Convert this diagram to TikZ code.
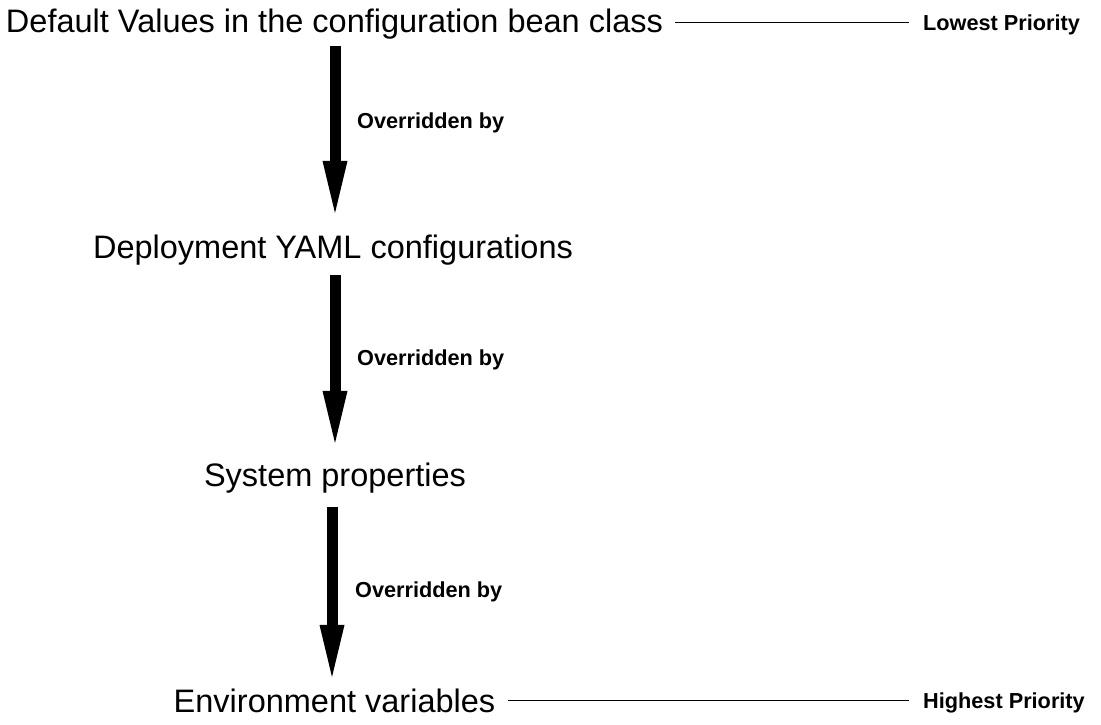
\documentclass[tikz,border=0pt]{standalone}
\usepackage{fontspec}
\setmainfont{Liberation Sans}
\usetikzlibrary{arrows.meta,positioning}

\begin{document}
\begin{tikzpicture}[
    x=1pt, y=1pt,
    level/.style={inner sep=0pt, anchor=base, font=\fontsize{32.5}{39}\selectfont},
    note/.style={inner sep=0pt, anchor=base west, font=\fontsize{21.7}{26}\selectfont\bfseries},
    arrow/.style={-{Triangle[length=52pt, width=25pt, line width=0pt]}, line width=11pt},
    rule/.style={line width=0.8pt}
]
\useasboundingbox (0,0) rectangle (1101,-724);

\node[level] (default) at (334.5,-32.5) {Default Values in the configuration bean class};
\node[level] (deploy) at (333,-258) {Deployment YAML configurations};
\node[level] (system) at (335,-486) {System properties};
\node[level] (env) at (334.5,-712) {Environment variables};

\draw[arrow, shorten <=6.7pt, shorten >=21.3pt] ([xshift=0.5pt]default.south) -- ([xshift=2pt]deploy.north);
\draw[arrow, shorten <=10.2pt, shorten >=19.3pt] ([xshift=2pt]deploy.south) -- (system.north);
\draw[arrow, shorten <=14.2pt, shorten >=11.3pt] ([xshift=-3pt]system.south) -- ([xshift=-2.5pt]env.north);

\node[note] (over1) at (357,-128) {Overridden by};
\node[note] (over2) at (357,-365) {Overridden by};
\node[note] (over3) at (355,-597) {Overridden by};

% Priority markers
\node[note] (low) at (923,-30) {Lowest Priority};
\node[note] (high) at (923,-708) {Highest Priority};

\draw[rule] ([xshift=12pt, yshift=2pt]default.east) -- ([xshift=-14pt, yshift=2pt]default.east -| low.west);
\draw[rule] ([xshift=13pt]env.east) -- ([xshift=-14pt]env.east -| high.west);

\end{tikzpicture}
\end{document}
